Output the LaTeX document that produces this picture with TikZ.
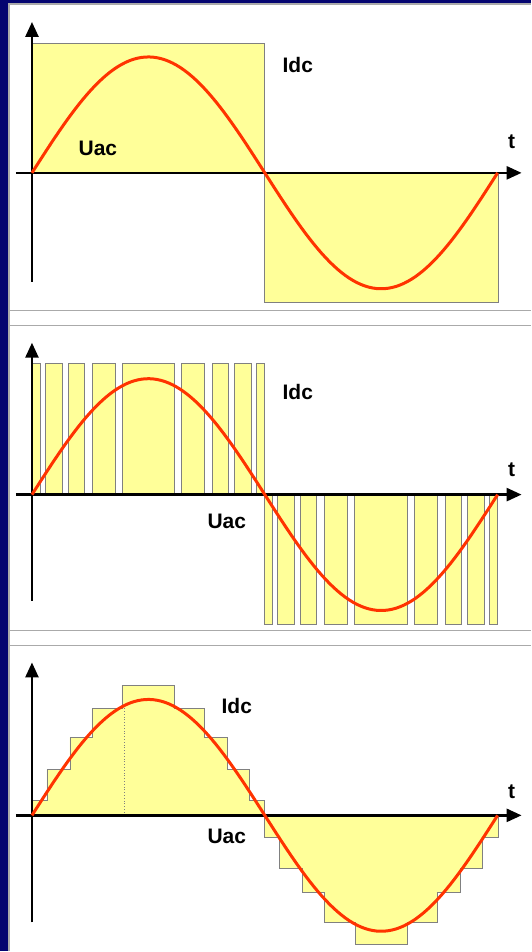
\documentclass[tikz,border=0pt]{standalone}
\usepackage{fontspec}
\setmainfont{Liberation Sans}
\usetikzlibrary{arrows.meta}
\definecolor{slidenavy}{RGB}{4,4,112}
\definecolor{pulseyellow}{RGB}{255,255,153}
\definecolor{wavered}{RGB}{255,51,0}
\definecolor{framegray}{RGB}{170,170,170}
\begin{document}
\begin{tikzpicture}[x=1pt, y=1pt,
  axis/.style={line width=2.6pt, -{Triangle[length=15pt,width=13pt]}},
  block/.style={fill=pulseyellow, draw=gray, line width=0.8pt},
  wave/.style={wavered, line width=3pt, line join=round},
  lbl/.style={font=\fontsize{21}{21}\selectfont\bfseries, inner sep=0pt}]
  % slide background with the three panel frames
  \fill[slidenavy] (0,0) rectangle (531,952);
  \fill[white] (8,0) rectangle (531,948);
  \draw[framegray, line width=1.5pt] (9,0) -- (9,948) -- (531,948);
  \foreach \y in {641,626,321,306}
    \draw[framegray, line width=1.5pt] (9,\y) -- (531,\y);

  % square wave current
  \begin{scope}[shift={(32,779)}]
    \draw[block] (0,0) rectangle (233,130);
    \draw[block] (233,0) rectangle (467,-130);
    \draw[axis] (-16,0) -- (490,0);
    \draw[axis] (0,-109) -- (0,151);
    \draw[wave] plot[domain=0:360, samples=120] ({\x/360*466}, {116*sin(\x)});
    \node[lbl] (idcA) at (266,108) {Idc};
    \node[lbl] (uacA) at (66,24) {Uac};
    \node[lbl] (tA) at (480,31) {t};
  \end{scope}

  % pulse width modulated current
  \begin{scope}[shift={(32,457)}]
    \foreach \a/\b in {0/8, 13/30, 36/52, 60/83, 90/143, 150/173, 181/197, 203/220, 225/233} {
      \draw[block] (\a,0) rectangle (\b,131);
      \draw[block] (233+\a,0) rectangle (233+\b,-130);
    }
    \draw[axis] (-16,0) -- (490,0);
    \draw[axis] (0,-106) -- (0,152);
    \draw[wave] plot[domain=0:360, samples=120] ({\x/360*466}, {116*sin(\x)});
    \node[lbl] (idcB) at (266,103) {Idc};
    \node[lbl] (uacB) at (195,-27) {Uac};
    \node[lbl] (tB) at (480,25) {t};
  \end{scope}

  % staircase current
  \begin{scope}[shift={(32,136)}]
    \filldraw[block] (0,0)
      \foreach \a/\b/\h in {0/15/15, 15/38/46, 38/60/78, 60/90/107, 90/143/130, 143/173/107, 173/196/78, 196/218/46, 218/233/15} {
        -- (\a,\h) -- (\b,\h)
      } -- (233,0) -- cycle;
    \filldraw[block] (233,0)
      \foreach \a/\b/\h in {0/15/22, 15/38/53, 38/60/77, 60/91/107, 91/143/129, 143/173/107, 173/196/77, 196/218/53, 218/234/22} {
        -- (233+\a,-\h) -- (233+\b,-\h)
      } -- (467,0) -- cycle;
    \draw[gray, dotted, line width=0.8pt] (92,0) -- (92,107);
    \draw[axis] (-16,0) -- (490,0);
    \draw[axis] (0,-107) -- (0,153);
    \draw[wave] plot[domain=0:360, samples=120] ({\x/360*466}, {116*sin(\x)});
    \node[lbl] (idcC) at (205,109) {Idc};
    \node[lbl] (uacC) at (195,-21) {Uac};
    \node[lbl] (tC) at (480,24) {t};
  \end{scope}
\end{tikzpicture}
\end{document}
